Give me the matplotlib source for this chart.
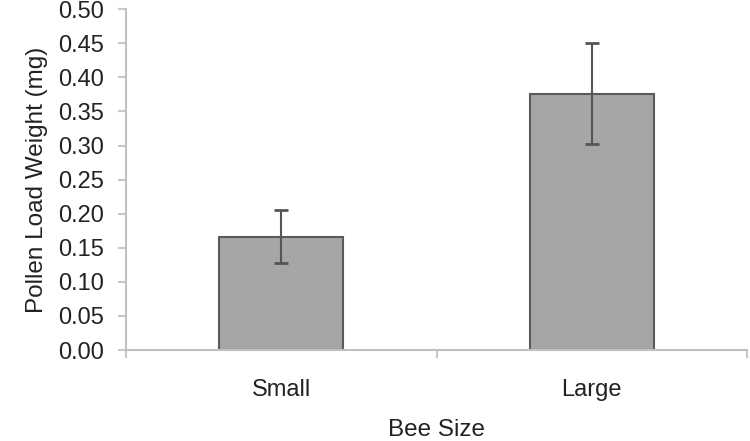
import matplotlib
matplotlib.use("Agg")
import matplotlib.pyplot as plt
import numpy as np

categories = ["Small", "Large"]
means = [0.166, 0.376]
err_low = [0.128, 0.302]
err_high = [0.206, 0.450]
yticks = [0.00, 0.05, 0.10, 0.15, 0.20, 0.25, 0.30, 0.35, 0.40, 0.45, 0.50]

plt.rcParams['font.family'] = ['Liberation Sans', 'DejaVu Sans']

fig = plt.figure(figsize=(7.5, 4.41), dpi=100)
ax = fig.add_axes([0.168, 0.2063, 0.828, 0.7727])

x = np.arange(len(categories))
yerr = np.array([np.array(means) - np.array(err_low), np.array(err_high) - np.array(means)])
ax.bar(x, means, width=0.4, color="#a6a6a6", edgecolor="#5a5a5a", linewidth=1.5, zorder=2)
ax.errorbar(x, means, yerr=yerr, fmt="none", ecolor="#555555", elinewidth=1.5,
            capsize=5, capthick=2, zorder=3)

ax.set_xlim(-0.5, 1.5)
ax.set_ylim(0, 0.5)
ax.set_yticks(yticks)
ax.set_yticklabels([f"{v:.2f}" for v in yticks])
ax.set_xticks(x)
ax.set_xticklabels(categories)
ax.set_xticks([-0.5, 0.5, 1.5], minor=True)
ax.tick_params(axis='x', which='major', length=0, pad=21, labelsize=17, colors="#222222")
ax.tick_params(axis='x', which='minor', length=6, width=1.5, color="#c8c8c8")
ax.tick_params(axis='y', length=6, width=1.5, color="#c8c8c8", labelsize=17, labelcolor="#222222", pad=10)

for s in ["top", "right"]:
    ax.spines[s].set_visible(False)
for s in ["left", "bottom"]:
    ax.spines[s].set_color("#c0c0c0")
    ax.spines[s].set_linewidth(1.5)

ax.set_xlabel("Bee Size", fontsize=17.5, color="#222222", labelpad=13)
ax.set_ylabel("Pollen Load Weight (mg)", fontsize=17.5, color="#222222", labelpad=7)

fig.savefig("out.png", dpi=100)
